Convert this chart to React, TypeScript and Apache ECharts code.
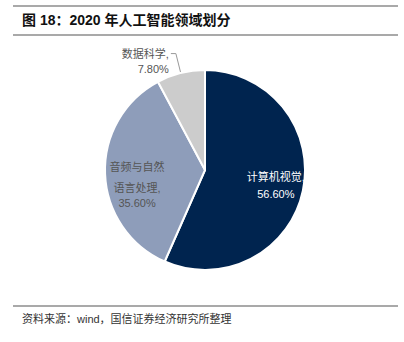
import React, { useEffect, useRef } from "react";
import * as echarts from "echarts";

const categories = ["计算机视觉", "音频与自然语言处理", "数据科学"];
const values = [56.6, 35.6, 7.8];
const colors = ["#00244F", "#8E9DBA", "#CCCCCC"];
const titleText = "图 18：2020 年人工智能领域划分";
const sourceText = "资料来源：wind，国信证券经济研究所整理";

const FONT = "'Liberation Sans', 'Noto Sans CJK SC', sans-serif";

export default function App() {
  const ref = useRef<HTMLDivElement>(null);
  useEffect(() => {
    if (!ref.current) return;
    const chart = echarts.init(ref.current, undefined, { renderer: "svg" });
    const pct = (v: number) => v.toFixed(2) + "%";
    const data = [
      {
        name: categories[0],
        value: values[0],
        itemStyle: { color: colors[0] },
        label: {
          position: "inside",
          color: "#ffffff",
          lineHeight: 17,
          overflow: "none",
          formatter: () => `${categories[0]},\n${pct(values[0])}`,
        },
        labelLine: { show: false },
      },
      {
        name: categories[1],
        value: values[1],
        itemStyle: { color: colors[1] },
        label: {
          position: "inside",
          color: "#555555",
          overflow: "none",
          formatter: () =>
            `{a|${categories[1].slice(0, 5)}}\n{b|${categories[1].slice(5)},}\n{b|${pct(values[1])}}`,
          rich: {
            a: { lineHeight: 28, fontSize: 11, color: "#555555", fontFamily: FONT },
            b: { lineHeight: 15, fontSize: 11, color: "#555555", fontFamily: FONT },
          },
        },
        labelLine: { show: false },
      },
      {
        name: categories[2],
        value: values[2],
        itemStyle: { color: colors[2] },
        label: {
          position: "outside",
          color: "#555555",
          align: "center",
          lineHeight: 15,
          overflow: "none",
          distanceToLabelLine: 2,
          formatter: () => `\n${categories[2]},\n${pct(values[2])}`,
        },
        labelLine: {
          show: true,
          length: 20,
          length2: 5,
          lineStyle: { color: "#999999", width: 1 },
        },
      },
    ];
    chart.setOption({
      animation: false,
      backgroundColor: "#ffffff",
      graphic: [
        { type: "line", shape: { x1: 13, y1: 6, x2: 398, y2: 6 }, style: { stroke: "#8c8c8c", lineWidth: 1.5 } },
        {
          type: "text",
          x: 22,
          y: 20,
          style: {
            text: titleText,
            fontSize: 14,
            fontWeight: "bold",
            fontFamily: FONT,
            fill: "#111111",
            verticalAlign: "middle",
          },
        },
        { type: "line", shape: { x1: 13, y1: 35, x2: 398, y2: 35 }, style: { stroke: "#8c8c8c", lineWidth: 1.5 } },
        { type: "line", shape: { x1: 13, y1: 306, x2: 398, y2: 306 }, style: { stroke: "#8c8c8c", lineWidth: 1.5 } },
        {
          type: "text",
          x: 22,
          y: 319,
          style: {
            text: sourceText,
            fontSize: 11,
            fontFamily: FONT,
            fill: "#333333",
            verticalAlign: "middle",
          },
        },
      ],
      series: [
        {
          type: "pie",
          center: [205, 170],
          radius: [0, 100],
          startAngle: 90,
          clockwise: true,
          avoidLabelOverlap: false,
          itemStyle: { borderColor: "#ffffff", borderWidth: 2 },
          label: { fontSize: 11, fontFamily: FONT },
          emphasis: { disabled: true },
          labelLayout: (params: any) => {
            if (params.dataIndex === 0) return { dx: 19, dy: 5 };
            if (params.dataIndex === 1) return { dx: -15, dy: 10 };
            return {};
          },
          data,
        },
      ],
    });
    return () => chart.dispose();
  }, []);
  return (
    <div
      ref={ref}
      style={{ position: "fixed", left: 0, top: 0, width: 404, height: 342, background: "#fff" }}
    />
  );
}
